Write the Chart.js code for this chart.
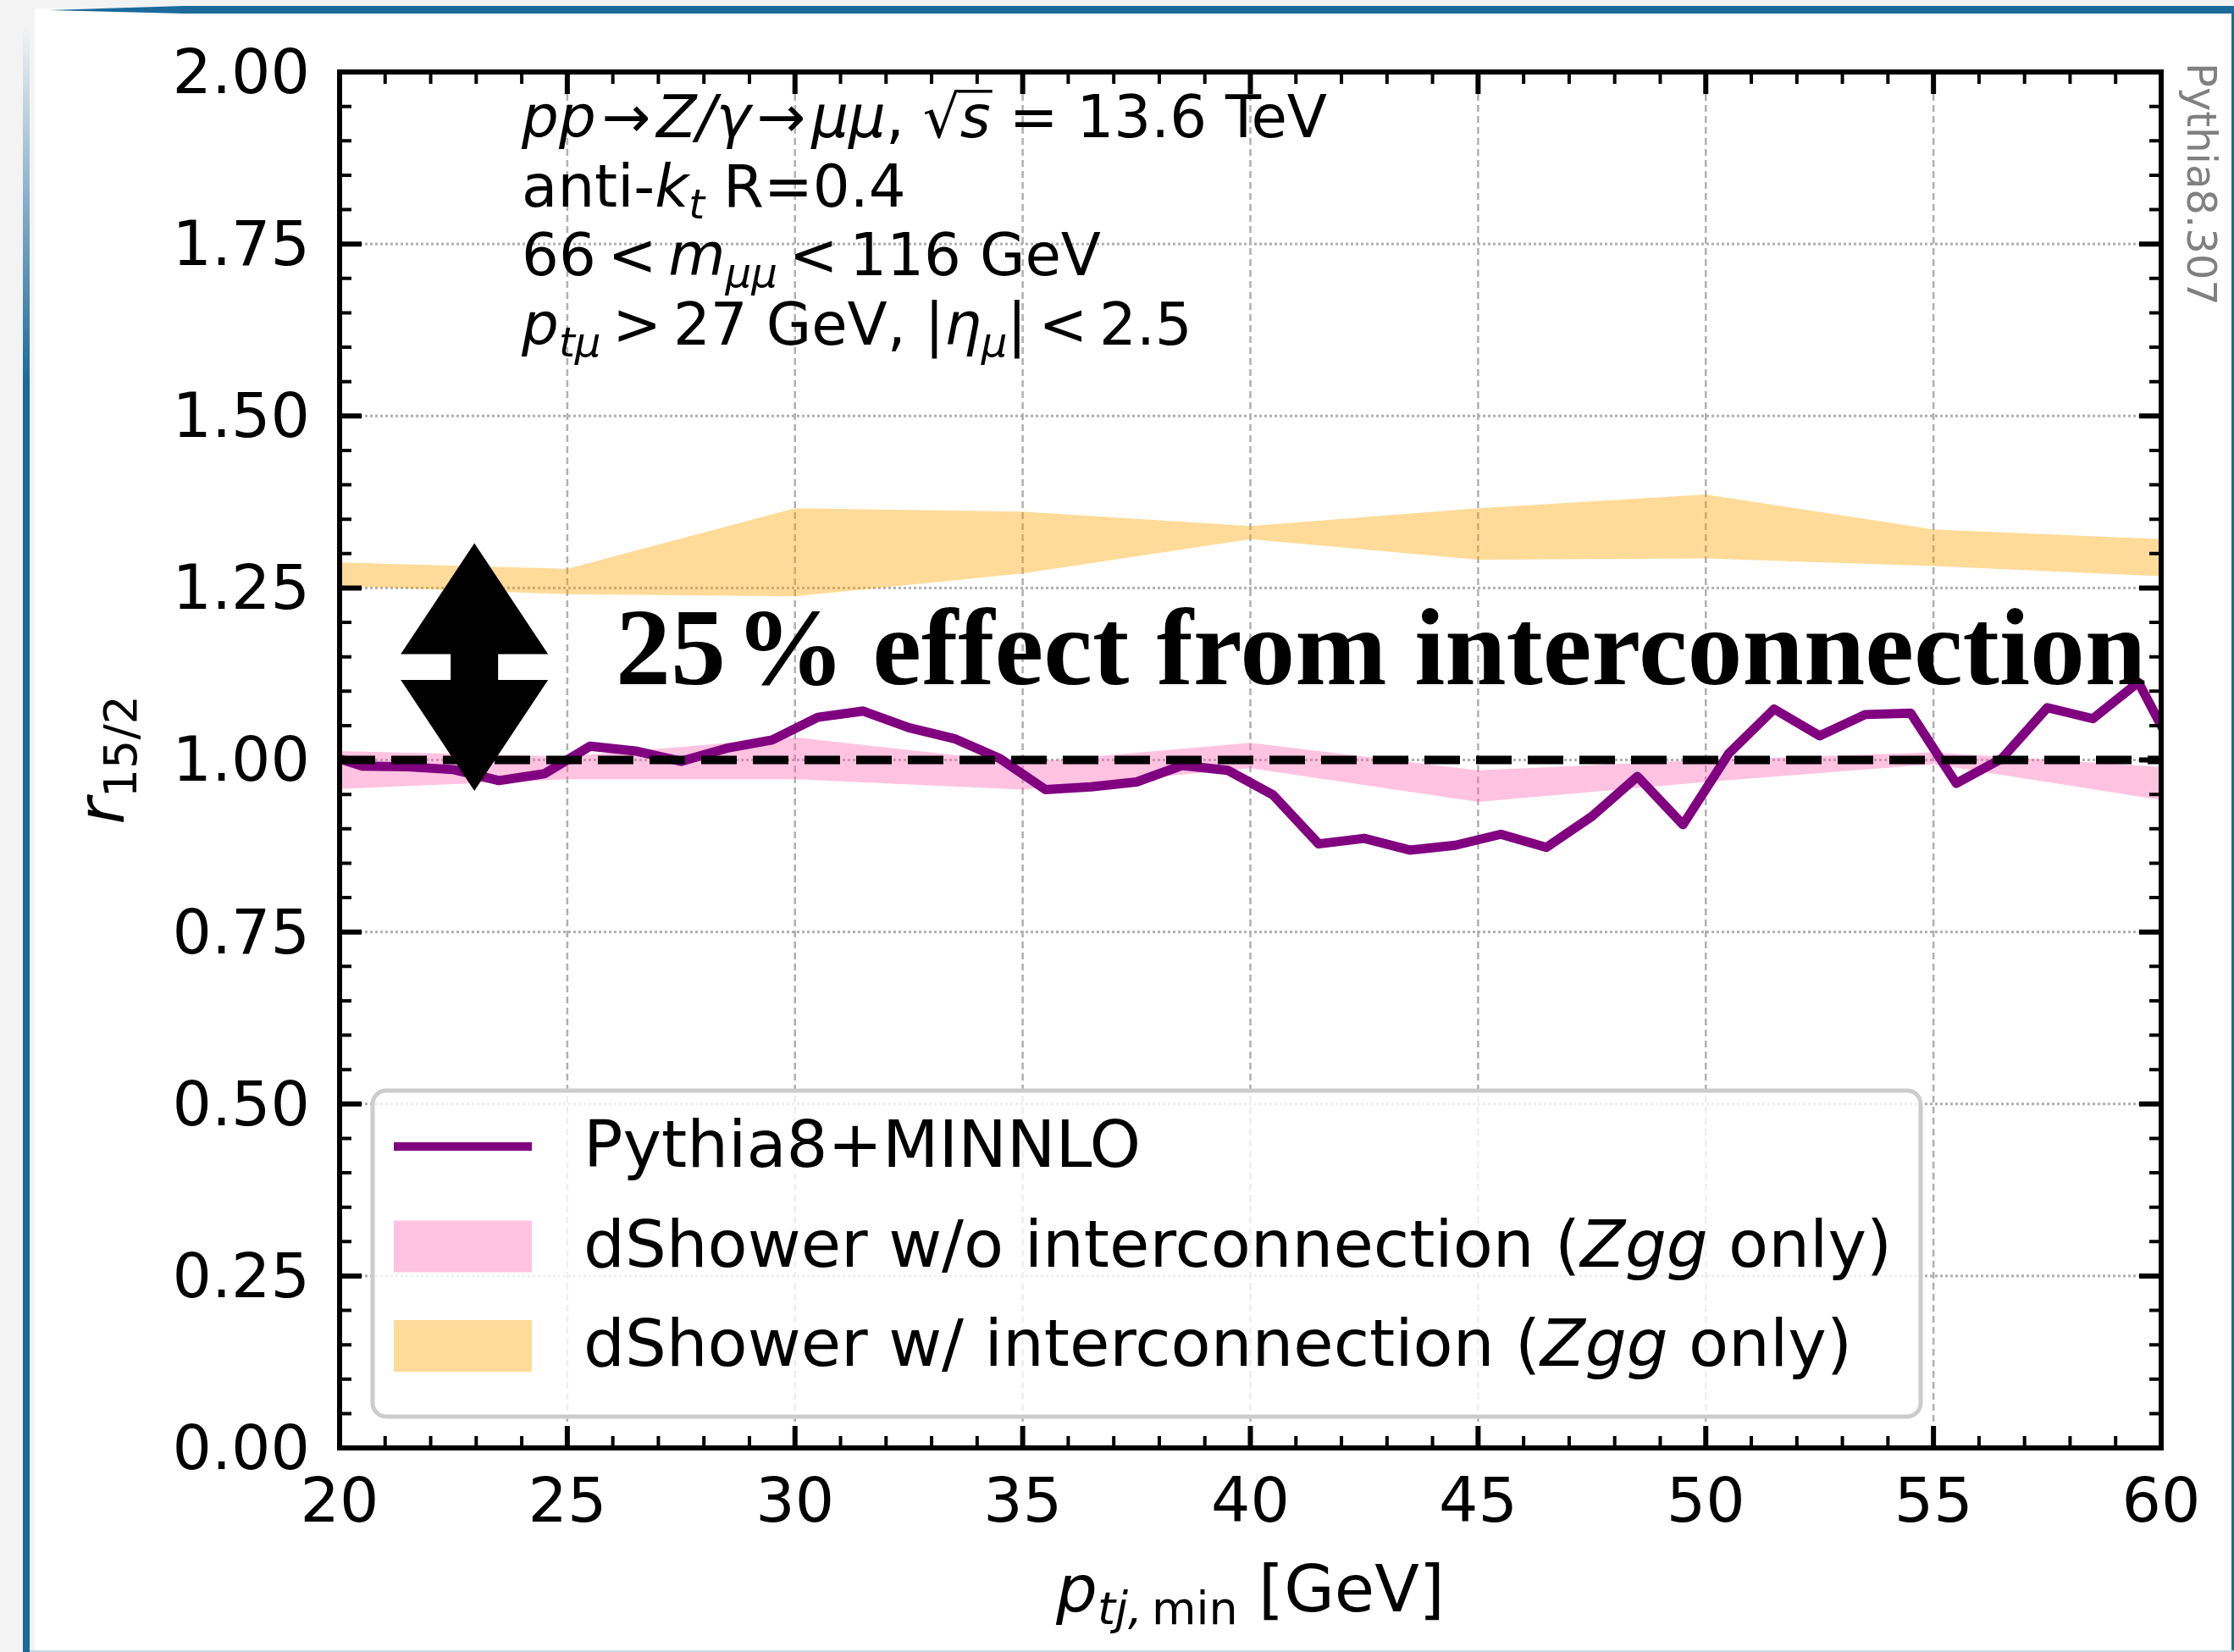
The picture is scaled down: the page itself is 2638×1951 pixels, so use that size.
<!DOCTYPE html>
<html>
<head>
<meta charset="utf-8">
<script src="https://cdn.jsdelivr.net/npm/chart.js@4.4.0/dist/chart.umd.min.js"></script>
<style>
  html, body { margin: 0; padding: 0; background: #f3f3f3; overflow: hidden; }
  #page { position: relative; width: 2638px; height: 1951px; }
  #sheet { position: absolute; left: 41px; top: 10px; right: 0; bottom: 0; background: #fff; }
  #topbar { position: absolute; left: 57px; top: 7px; right: 0; height: 9px; background: #1b6a9a;
            clip-path: polygon(0 55%, 160px 0, 100% 0, 100% 100%, 160px 100%); }
  #leftbar { position: absolute; left: 27px; top: 30px; width: 8px; bottom: 0;
             background: linear-gradient(to bottom, rgba(27,106,154,0), #1b6a9a 420px); }
  #rightbar { position: absolute; right: 0; top: 10px; width: 3px; bottom: 0; background: #1b6a9a; }
  #bottombar { position: absolute; left: 35px; right: 0; bottom: 0; height: 2px; background: #c3dae8; }
  #chart { position: absolute; left: 0; top: 0; }
</style>
</head>
<body>
<div id="page">
  <div id="sheet"></div>
  <div id="topbar"></div>
  <div id="leftbar"></div>
  <div id="rightbar"></div>
  <div id="bottombar"></div>
  <canvas id="chart" width="2638" height="1951"></canvas>
</div>
<script>
// === DATA ===
// bin centres of the Pythia8+MINNLO ratio (first/last are clipped at the frame)
const xBins = [19.5, 20.5, 21.5, 22.5, 23.5, 24.5, 25.5, 26.5, 27.5, 28.5, 29.5,
               30.5, 31.5, 32.5, 33.5, 34.5, 35.5, 36.5, 37.5, 38.5, 39.5,
               40.5, 41.5, 42.5, 43.5, 44.5, 45.5, 46.5, 47.5, 48.5, 49.5,
               50.5, 51.5, 52.5, 53.5, 54.5, 55.5, 56.5, 57.5, 58.5, 59.5, 60.5];
const pythiaMinnlo = [1.012, 0.991, 0.990, 0.986, 0.970, 0.980, 1.020, 1.013, 0.998, 1.017, 1.029,
                      1.062, 1.071, 1.047, 1.031, 1.002, 0.957, 0.961, 0.968, 0.992, 0.985,
                      0.949, 0.878, 0.886, 0.869, 0.876, 0.892, 0.873, 0.918, 0.976, 0.906,
                      1.009, 1.074, 1.035, 1.066, 1.068, 0.966, 1.002, 1.076, 1.060, 1.113, 0.987];

// dShower bands, given at every 5 GeV
const bandX = [20, 25, 30, 35, 40, 45, 50, 55, 60];
const noIcUpper = [1.013, 1.005, 1.033, 0.996, 1.025, 0.985, 1.000, 1.011, 0.990];
const noIcLower = [0.958, 0.972, 0.972, 0.957, 0.988, 0.939, 0.968, 0.994, 0.942];
const icUpper = [1.287, 1.278, 1.366, 1.361, 1.340, 1.366, 1.386, 1.335, 1.321];
const icLower = [1.253, 1.241, 1.238, 1.271, 1.321, 1.291, 1.293, 1.282, 1.267];

const refLevel = 1.0;

// axes
const xTicks = [20, 25, 30, 35, 40, 45, 50, 55, 60];
const xTickLabels = ["20", "25", "30", "35", "40", "45", "50", "55", "60"];
const yTicks = [0, 0.25, 0.5, 0.75, 1.0, 1.25, 1.5, 1.75, 2.0];
const yTickLabels = ["0.00", "0.25", "0.50", "0.75", "1.00", "1.25", "1.50", "1.75", "2.00"];
const xMinorStep = 1;
const yMinorStep = 0.05;

// texts ([text, style] : i = italic, s = subscript, o = overline)
const infoLines = [
  [["pp", "i"], ["\u200a→\u200a", ""], ["Z/γ", "i"], ["\u200a→\u200a", ""], ["μμ", "i"], [", ", ""], ["√", ""], ["s", "io"], [" = 13.6 TeV", ""]],
  [["anti-", ""], ["k", "i"], ["t", "is"], [" R=0.4", ""]],
  [["66\u2009<\u2009", ""], ["m", "i"], ["μμ", "is"], ["\u2009<\u2009116 GeV", ""]],
  [["p", "i"], ["tμ", "is"], ["\u2009>\u200927 GeV, |", ""], ["η", "i"], ["μ", "is"], ["|\u2009<\u20092.5", ""]]
];
const xTitle = [["p", "i"], ["tj,", "is"], ["\u2009min", "s"], [" [GeV]", ""]];
const yTitle = [["r", "i"], ["15/2", "s"]];
const versionLabel = "Pythia8.307";
const legendItems = [
  { kind: "line", color: "#800080", text: [["Pythia8+MINNLO", ""]] },
  { kind: "patch", color: "rgba(255,105,180,0.4)", text: [["dShower w/o interconnection (", ""], ["Zgg", "i"], [" only)", ""]] },
  { kind: "patch", color: "rgba(255,165,0,0.4)", text: [["dShower w/ interconnection (", ""], ["Zgg", "i"], [" only)", ""]] }
];
const effectLabel = "25\u200a% effect from interconnection";
const effectAt = [26.06, 1.11];
const arrowX = 22.96;
const arrowFrom = 1.315;
const arrowTo = 0.955;

// === TEXT HELPERS ===
const FAMILY = '"DejaVu Sans", sans-serif';

function segFont(style, size) {
  const it = style.includes("i") ? "italic " : "";
  const sz = style.includes("s") ? size * 0.7 : size;
  return it + sz + "px " + FAMILY;
}

function richWidth(ctx, segs, size) {
  let w = 0;
  segs.forEach(([t, st]) => { ctx.font = segFont(st, size); w += ctx.measureText(t).width; });
  return w;
}

function drawRich(ctx, segs, x, y, size, align) {
  let cx = align === "center" ? x - richWidth(ctx, segs, size) / 2 : x;
  ctx.textAlign = "left";
  ctx.textBaseline = "alphabetic";
  segs.forEach(([t, st]) => {
    ctx.font = segFont(st, size);
    const dy = st.includes("s") ? size * 0.2 : 0;
    ctx.fillText(t, cx, y + dy);
    const w = ctx.measureText(t).width;
    if (st.includes("o")) ctx.fillRect(cx - 2, y - size * 0.81, w + 4, size * 0.05);
    cx += w;
  });
}

// === PLUGIN: grid, frame, ticks, legend, annotations ===
const decor = {
  id: "decor",
  beforeDatasetsDraw(chart) {
    const { ctx, chartArea: a, scales: { x, y } } = chart;
    ctx.save();
    ctx.strokeStyle = "#b0b0b0";
    ctx.lineWidth = 2.5;
    ctx.setLineDash([8, 5]);
    xTicks.forEach(v => {
      const px = x.getPixelForValue(v);
      ctx.beginPath(); ctx.moveTo(px, a.top); ctx.lineTo(px, a.bottom); ctx.stroke();
    });
    ctx.lineWidth = 3;
    ctx.setLineDash([3, 3]);
    yTicks.forEach(v => {
      const py = y.getPixelForValue(v);
      ctx.beginPath(); ctx.moveTo(a.left, py); ctx.lineTo(a.right, py); ctx.stroke();
    });
    ctx.restore();
  },
  afterDatasetsDraw(chart) {
    const { ctx, chartArea: a, scales: { x, y } } = chart;
    ctx.save();

    // --- inward ticks on all four sides ---
    ctx.strokeStyle = "#000";
    const isMajor = (v, list) => list.some(t => Math.abs(t - v) < 1e-6);
    for (let v = x.min; v <= x.max + 1e-6; v += xMinorStep) {
      const major = isMajor(v, xTicks);
      const len = major ? 26 : 14;
      ctx.lineWidth = major ? 6 : 4;
      const px = x.getPixelForValue(v);
      ctx.beginPath();
      ctx.moveTo(px, a.bottom); ctx.lineTo(px, a.bottom - len);
      ctx.moveTo(px, a.top); ctx.lineTo(px, a.top + len);
      ctx.stroke();
    }
    for (let v = y.min; v <= y.max + 1e-6; v += yMinorStep) {
      const major = isMajor(v, yTicks);
      const len = major ? 26 : 14;
      ctx.lineWidth = major ? 6 : 4;
      const py = y.getPixelForValue(v);
      ctx.beginPath();
      ctx.moveTo(a.left, py); ctx.lineTo(a.left + len, py);
      ctx.moveTo(a.right, py); ctx.lineTo(a.right - len, py);
      ctx.stroke();
    }

    // --- frame ---
    ctx.lineWidth = 6;
    ctx.lineJoin = "miter";
    ctx.strokeRect(a.left, a.top, a.right - a.left, a.bottom - a.top);

    // --- legend ---
    const lx = 440, ly = 1288, lw = 1828, lh = 385, r = 16;
    ctx.beginPath();
    ctx.roundRect(lx, ly, lw, lh, r);
    ctx.fillStyle = "rgba(255,255,255,0.8)";
    ctx.fill();
    ctx.lineWidth = 5;
    ctx.strokeStyle = "#cccccc";
    ctx.stroke();
    legendItems.forEach((it, i) => {
      const base = 1378 + i * 117.5;
      const cy = base - 24;
      if (it.kind === "line") {
        ctx.strokeStyle = it.color;
        ctx.lineWidth = 10;
        ctx.beginPath(); ctx.moveTo(465, cy); ctx.lineTo(628, cy); ctx.stroke();
      } else {
        ctx.fillStyle = it.color;
        ctx.fillRect(465, cy - 30, 163, 61);
      }
      ctx.fillStyle = "#000";
      drawRich(ctx, it.text, 689, base, 77, "left");
    });

    // --- double arrow ---
    const ax = x.getPixelForValue(arrowX);
    const yt = y.getPixelForValue(arrowFrom);
    const yb = y.getPixelForValue(arrowTo);
    const headL = 131, headW = 87, stemW = 28;
    ctx.fillStyle = "#000";
    ctx.beginPath();
    ctx.moveTo(ax, yt);
    ctx.lineTo(ax + headW, yt + headL);
    ctx.lineTo(ax + stemW, yt + headL);
    ctx.lineTo(ax + stemW, yb - headL);
    ctx.lineTo(ax + headW, yb - headL);
    ctx.lineTo(ax, yb);
    ctx.lineTo(ax - headW, yb - headL);
    ctx.lineTo(ax - stemW, yb - headL);
    ctx.lineTo(ax - stemW, yt + headL);
    ctx.lineTo(ax - headW, yt + headL);
    ctx.closePath();
    ctx.fill();

    // --- big label ---
    ctx.font = 'bold 130px "Liberation Serif", serif';
    ctx.textAlign = "left";
    ctx.textBaseline = "alphabetic";
    ctx.fillText(effectLabel, x.getPixelForValue(effectAt[0]), y.getPixelForValue(effectAt[1]));

    // --- process info ---
    const ix = a.left + 0.1 * (a.right - a.left);
    infoLines.forEach((segs, i) => drawRich(ctx, segs, ix, a.top + 77 + i * 81.7, 69, "left"));

    // --- axis titles ---
    drawRich(ctx, xTitle, (a.left + a.right) / 2, 1903, 77, "center");
    ctx.save();
    ctx.translate(146, (a.top + a.bottom) / 2);
    ctx.rotate(-Math.PI / 2);
    drawRich(ctx, yTitle, 0, 0, 77, "center");
    ctx.restore();

    // --- version tag ---
    ctx.save();
    ctx.translate(2583, 74);
    ctx.rotate(Math.PI / 2);
    ctx.fillStyle = "#808080";
    ctx.font = "48px " + FAMILY;
    ctx.textAlign = "left";
    ctx.textBaseline = "alphabetic";
    ctx.fillText(versionLabel, 0, 0);
    ctx.restore();

    ctx.restore();
  }
};

// === CHART ===
const pts = (xs, ys) => xs.map((v, i) => ({ x: v, y: ys[i] }));
const noLine = { borderWidth: 0, borderColor: "rgba(0,0,0,0)", pointRadius: 0, tension: 0, clip: 0 };

new Chart(document.getElementById("chart").getContext("2d"), {
  type: "line",
  data: {
    datasets: [
      { label: "ref", data: pts([xTicks[0], xTicks[xTicks.length - 1]], [refLevel, refLevel]),
        borderColor: "#000", borderWidth: 10, borderDash: [42, 19], borderCapStyle: "butt",
        pointRadius: 0, fill: false, clip: 0, order: 0 },
      { label: "Pythia8+MINNLO", data: pts(xBins, pythiaMinnlo),
        borderColor: "#800080", borderWidth: 11, borderJoinStyle: "round", pointRadius: 0,
        tension: 0, fill: false, clip: 0, order: 1 },
      { label: "w/o upper", data: pts(bandX, noIcUpper), ...noLine,
        fill: "+1", backgroundColor: "rgba(255,105,180,0.4)", order: 2 },
      { label: "w/o lower", data: pts(bandX, noIcLower), ...noLine, fill: false, order: 2 },
      { label: "w/ upper", data: pts(bandX, icUpper), ...noLine,
        fill: "+1", backgroundColor: "rgba(255,165,0,0.4)", order: 3 },
      { label: "w/ lower", data: pts(bandX, icLower), ...noLine, fill: false, order: 3 }
    ]
  },
  options: {
    responsive: false,
    animation: false,
    devicePixelRatio: 1,
    layout: { padding: { left: 0, top: 85, right: 86, bottom: 0 } },
    plugins: { legend: { display: false }, tooltip: { enabled: false } },
    scales: {
      x: {
        type: "linear", min: 20, max: 60,
        afterBuildTicks: s => { s.ticks = xTicks.map(v => ({ value: v })); },
        afterFit: s => { s.height = 241; },
        ticks: { autoSkip: false, maxRotation: 0, color: "#000", padding: 24,
                 font: { family: FAMILY, size: 73 },
                 callback: (v, i) => xTickLabels[i] },
        grid: { display: false, drawTicks: false },
        border: { display: false }
      },
      y: {
        min: 0, max: 2,
        afterBuildTicks: s => { s.ticks = yTicks.map(v => ({ value: v })); },
        afterFit: s => { s.width = 401; },
        ticks: { autoSkip: false, color: "#000", padding: 35, labelOffset: 6,
                 font: { family: FAMILY, size: 73 },
                 callback: (v, i) => yTickLabels[i] },
        grid: { display: false, drawTicks: false },
        border: { display: false }
      }
    }
  },
  plugins: [decor]
});
</script>
</body>
</html>
